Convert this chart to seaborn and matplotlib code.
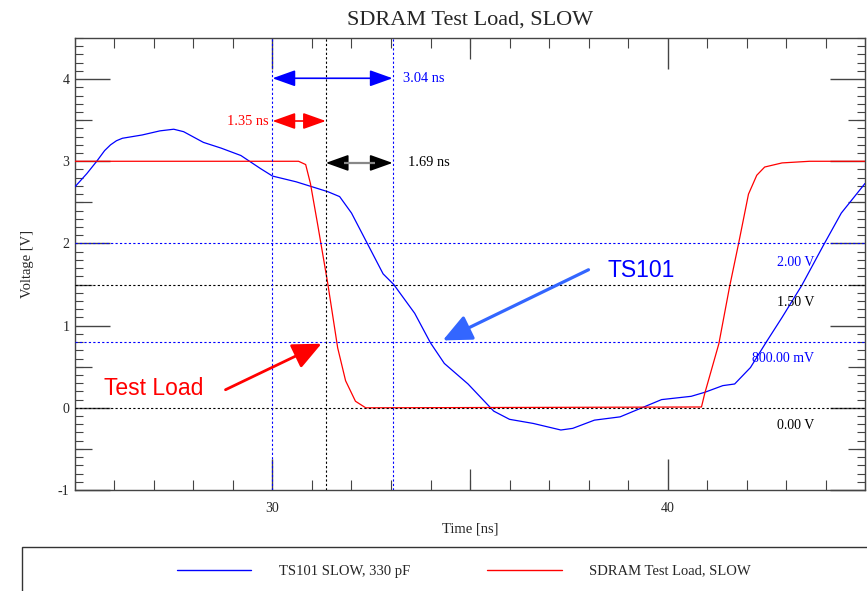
import numpy as np
import pandas as pd
import matplotlib
matplotlib.use("Agg")
import matplotlib.pyplot as plt
import matplotlib.patches as mpatches
from matplotlib.lines import Line2D
import seaborn as sns

# ---------------- data ----------------
blue_t = [25.0, 25.3, 25.55, 25.75, 25.9, 26.05, 26.2, 26.7, 27.15, 27.5, 27.75, 28.25, 28.7, 29.2, 29.7,
          30.0, 30.6, 31.0, 31.4, 31.7, 32.0, 32.4, 32.8, 33.07, 33.6, 34.0, 34.35,
          34.95, 35.6, 36.0, 36.6, 37.3, 37.6, 38.15, 38.8, 39.35, 39.85, 40.6, 40.95,
          41.4, 41.7, 42.1, 42.5, 42.9, 43.4, 43.95, 44.4, 45.0]
blue_v = [2.69, 2.85, 3.0, 3.13, 3.2, 3.25, 3.28, 3.32, 3.37, 3.39, 3.36, 3.23, 3.16, 3.07, 2.91,
          2.82, 2.75, 2.69, 2.63, 2.57, 2.37, 2.0, 1.63, 1.5, 1.15, 0.79, 0.54,
          0.29, -0.04, -0.14, -0.19, -0.27, -0.25, -0.15, -0.11, 0.0, 0.10, 0.14, 0.19,
          0.27, 0.29, 0.49, 0.80, 1.10, 1.49, 1.98, 2.37, 2.73]

red_t = [25.0, 30.66, 30.84, 30.96, 31.14, 31.4, 31.65, 31.85, 32.1, 32.36,
         40.86, 40.94, 41.3, 41.57, 41.8, 42.05, 42.26, 42.46, 42.9, 43.6, 45.0]
red_v = [3.0, 3.0, 2.96, 2.73, 2.24, 1.51, 0.73, 0.33, 0.08, 0.0,
         0.01, 0.17, 0.78, 1.47, 2.0, 2.6, 2.83, 2.93, 2.98, 3.0, 3.0]

series_names = ["TS101 SLOW, 330 pF", "SDRAM Test Load, SLOW"]
series_colors = ["#0000ff", "#ff0000"]

# threshold levels and labels
h_levels = [2.0, 1.5, 0.8, 0.0]
h_colors = ["#0000ff", "#000000", "#0000ff", "#000000"]
h_labels = ["2.00 V", "1.50 V", "800.00 mV", "0.00 V"]
h_label_x = [42.77, 42.77, 42.13, 42.77]
h_label_y = [1.77, 1.28, 0.60, -0.21]

v_levels = [30.0, 31.35, 33.04]
v_colors = ["#0000ff", "#000000", "#0000ff"]

# measurements: (start, end, y, label, color)
meas_start = [30.0, 30.0, 31.35]
meas_end = [33.04, 31.35, 33.04]
meas_y = [4.01, 3.49, 2.98]
meas_labels = ["3.04 ns", "1.35 ns", "1.69 ns"]
meas_colors = ["#0000ff", "#ff0000", "#000000"]

df = pd.DataFrame({
    "t": blue_t + red_t,
    "v": blue_v + red_v,
    "series": [series_names[0]] * len(blue_t) + [series_names[1]] * len(red_t),
})

# ---------------- style ----------------
sns.set_theme(style="ticks")
plt.rcParams["font.family"] = ["Liberation Serif", "DejaVu Serif"]
plt.rcParams["axes.linewidth"] = 1.0
plt.rcParams["axes.unicode_minus"] = False

fig = plt.figure(figsize=(8.67, 5.91), dpi=100)
ax = fig.add_axes([0.0865, 0.1709, 0.9112, 0.7648])

sns.lineplot(data=df, x="t", y="v", hue="series", palette=series_colors,
             hue_order=series_names, legend=False, ax=ax, linewidth=0.9,
             estimator=None, sort=True, zorder=3)

dot = (0, (2.0, 2.0))
for lvl, c in zip(h_levels, h_colors):
    ax.axhline(lvl, color=c, lw=0.8, ls=dot, zorder=4)
for lvl, c in zip(v_levels, v_colors):
    ax.axvline(lvl, color=c, lw=0.8, ls=dot, zorder=4)

for txt, x, y, c in zip(h_labels, h_label_x, h_label_y, h_colors):
    ax.text(x, y, txt, color=c, fontsize=10, ha="left", va="center", zorder=5)

# measurement arrows
for s, e, y, lab, c in zip(meas_start, meas_end, meas_y, meas_labels, meas_colors):
    ax.annotate("", xy=(e, y), xytext=(s, y),
                arrowprops=dict(arrowstyle="<|-|>,head_length=0.7,head_width=0.25",
                                mutation_scale=20, color=c, lw=1.2,
                                shrinkA=0, shrinkB=0), zorder=6)
# gray shaft of black arrow
ax.plot([meas_start[2] + 0.45, meas_end[2] - 0.45], [meas_y[2], meas_y[2]],
        color="#888888", lw=1.6, zorder=7, solid_capstyle="butt")

ax.text(33.3, meas_y[0], meas_labels[0], color=meas_colors[0], fontsize=10.4,
        ha="left", va="center")
ax.text(29.9, meas_y[1], meas_labels[1], color=meas_colors[1], fontsize=10.4,
        ha="right", va="center")
ax.text(33.43, meas_y[2], meas_labels[2], color=meas_colors[2], fontsize=10.4,
        ha="left", va="center")

# callouts
ax.annotate("", xy=(34.31, 0.82), xytext=(38.0, 1.68),
            arrowprops=dict(arrowstyle="-|>,head_length=1.1,head_width=0.5",
                            mutation_scale=16, color="#3366ff", lw=2.3,
                            shrinkA=0, shrinkB=0), zorder=6)
ax.text(39.34, 1.67, "TS101", color="#0000ff", fontsize=16.5, ha="center",
        va="center", family=["Liberation Sans", "DejaVu Sans"])
ax.annotate("", xy=(31.24, 0.78), xytext=(28.81, 0.22),
            arrowprops=dict(arrowstyle="-|>,head_length=1.1,head_width=0.5",
                            mutation_scale=16, color="#ff0000", lw=2.0,
                            shrinkA=0, shrinkB=0), zorder=6)
ax.text(27.0, 0.23, "Test Load", color="#ff0000", fontsize=16.5, ha="center",
        va="center", family=["Liberation Sans", "DejaVu Sans"])

# axes limits, ticks
ax.set_xlim(25, 45)
ax.set_ylim(-1, 4.5)
ax.set_xticks([30, 40])
ax.set_xticks(np.arange(25, 46, 1), minor=True)
ax.set_yticks([-1, 0, 1, 2, 3, 4])
ax.set_yticks(np.arange(-1, 4.51, 0.1), minor=True)
ax.tick_params(axis="x", which="major", direction="in", length=22, width=1,
               top=True, bottom=True, labelsize=10, pad=9, color="#444444")
ax.tick_params(axis="x", which="minor", direction="in", length=7, width=0.8,
               top=True, bottom=True, color="#444444")
ax.tick_params(axis="y", which="major", direction="in", length=25, width=1,
               left=True, right=True, labelsize=10, pad=4, color="#444444")
ax.tick_params(axis="y", which="minor", direction="in", length=6, width=0.8,
               left=True, right=True, color="#444444")
for sp in ax.spines.values():
    sp.set_color("#444444")

for side in ["bottom", "top"]:
    sec = ax.secondary_xaxis(side)
    sec.set_xticks([35])
    sec.tick_params(direction="in", length=15, width=0.9, color="#444444",
                    labelbottom=False, labeltop=False)
    for sp in sec.spines.values():
        sp.set_visible(False)
for side in ["left", "right"]:
    sec = ax.secondary_yaxis(side)
    sec.set_yticks([-0.5, 0.5, 1.5, 2.5, 3.5])
    sec.tick_params(direction="in", length=12, width=0.9, color="#444444",
                    labelleft=False, labelright=False)
    for sp in sec.spines.values():
        sp.set_visible(False)

ax.set_xlabel("Time [ns]", fontsize=10.5, labelpad=5)
ax.set_ylabel("Voltage [V]", fontsize=10.5, labelpad=17)
ax.set_title("SDRAM Test Load, SLOW", fontsize=16, pad=10)

# legend box
fig.patches.append(mpatches.Rectangle((22 / 867, -0.02), 1.0, 0.0745 + 0.02,
                                      transform=fig.transFigure, fill=False,
                                      edgecolor="#333333", lw=1.0))
handles = [Line2D([0], [0], color=c, lw=1.0) for c in series_colors]
fig.legend(handles, series_names, loc="center", bbox_to_anchor=(0.535, 0.0338),
           ncol=2, frameon=False, fontsize=10.5, handlelength=5.1,
           handletextpad=1.9, columnspacing=5.3)

fig.savefig("out.png", dpi=100)
